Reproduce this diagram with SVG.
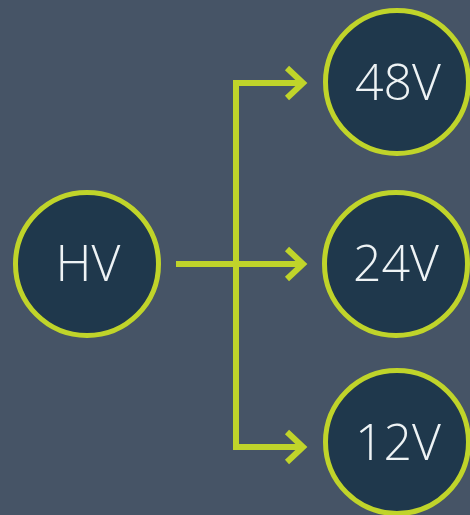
<svg xmlns="http://www.w3.org/2000/svg" width="470" height="515" viewBox="0 0 470 515">
<style>
.node circle{fill:#1f384c;stroke:#c0d42a;stroke-width:5}
.node text{font-family:"Open Sans","Noto Sans","DejaVu Sans",sans-serif;font-weight:300;font-size:50px;fill:#eef3f5;text-anchor:middle;dominant-baseline:central}
.conn{fill:none;stroke:#c0d42a;stroke-width:6}
.head{fill:none;stroke:#c0d42a;stroke-width:6;stroke-linejoin:miter}
</style>
<rect width="470" height="515" fill="#465466"/>
<g id="connectors">
<path class="conn" d="M176 264H302"/>
<path class="conn" d="M302 83H236V447H302"/>
<path class="head" d="M287 68L303 83L287 98"/>
<path class="head" d="M287 249L303 264L287 279"/>
<path class="head" d="M287 432L303 447L287 462"/>
</g>
<g id="HV" class="node"><circle cx="87" cy="264" r="71.5"/><text x="88" y="262">HV</text></g>
<g id="V48" class="node"><circle cx="397" cy="82" r="71.5"/><text x="398" y="81">48V</text></g>
<g id="V24" class="node"><circle cx="396" cy="264" r="71.5"/><text x="396" y="262">24V</text></g>
<g id="V12" class="node"><circle cx="397" cy="442" r="71.5"/><text x="398" y="441">12V</text></g>
</svg>
